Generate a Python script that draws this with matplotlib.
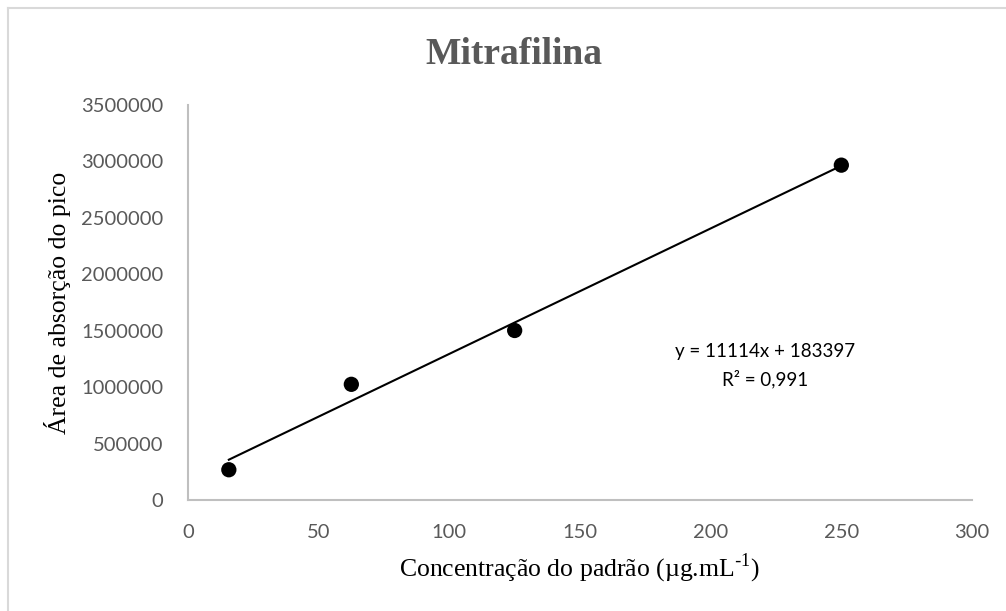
import numpy as np
import matplotlib
matplotlib.use("Agg")
import matplotlib.pyplot as plt
from matplotlib.lines import Line2D

# calibration standards
conc = [15.625, 62.5, 125, 250]
area = [268000, 1025000, 1502000, 2967000]

# linear trendline
slope = 11114
intercept = 183397
r2 = "0,991"

xticks = [0, 50, 100, 150, 200, 250, 300]
yticks = [0, 500000, 1000000, 1500000, 2000000, 2500000, 3000000, 3500000]

W, H = 1006, 611
fg = plt.figure(figsize=(W / 100, H / 100), dpi=100)
fg.patch.set_facecolor("white")

# chart frame
frame_c = "#d9d9d9"
fg.add_artist(Line2D([8 / W, 8 / W], [0, 1 - 8 / H], color=frame_c, lw=1.5, transform=fg.transFigure))
fg.add_artist(Line2D([8 / W, 1], [1 - 8 / H, 1 - 8 / H], color=frame_c, lw=1.5, transform=fg.transFigure))

ax = fg.add_axes([188 / W, 1 - 500 / H, (972 - 188) / W, (500 - 105) / H])

grey = "#595959"
ax.scatter(conc, area, s=11**2, color="black", zorder=3, edgecolors="none")

xf = np.array([min(conc), max(conc)])
ax.plot(xf, slope * xf + intercept, color="black", lw=1.5, zorder=2)

ax.set_xlim(0, 300)
ax.set_ylim(0, 3500000)
ax.set_xticks(xticks)
ax.set_yticks(yticks)
ax.set_xticklabels([str(v) for v in xticks])
ax.set_yticklabels([str(v) for v in yticks])
ax.tick_params(length=0, labelsize=14.5, colors=grey, labelfontfamily="Lato")
ax.tick_params(axis="x", pad=17)
ax.tick_params(axis="y", pad=18)

for s in ("top", "right"):
    ax.spines[s].set_visible(False)
for s in ("left", "bottom"):
    ax.spines[s].set_color("#bfbfbf")
    ax.spines[s].set_linewidth(1.5)

ax.set_xlabel("Concentração do padrão (µg.mL$^{\\text{-}\\mathregular{1}}$)", fontsize=18.5,
              family="Liberation Serif", va="center")
ax.set_ylabel("Área de absorção do pico", fontsize=18.5, family="Liberation Serif", va="center")
ax.xaxis.set_label_coords(0.5, -(568 - 500) / 395)
ax.yaxis.set_label_coords(-(188 - 57) / 784, 0.5)

fg.text(514 / W, 1 - 55 / H, "Mitrafilina", ha="center", va="center", fontsize=27,
        fontweight="bold", family="Liberation Serif", color=grey)

fg.text(765 / W, 1 - 366 / H, f"y = {slope}x + {intercept}\nR² = {r2}", ha="center", va="center",
        fontsize=13.5, family="Lato", color="black", linespacing=1.6)

fg.savefig("out.png", dpi=100)
